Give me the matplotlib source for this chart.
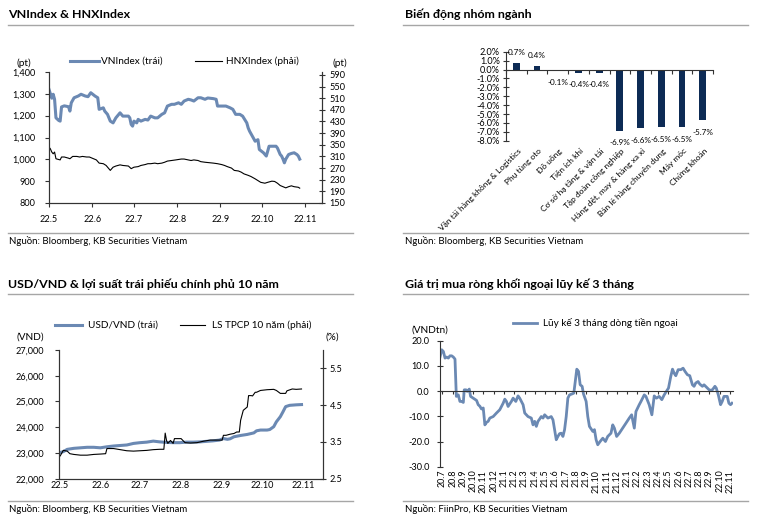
import matplotlib
matplotlib.use('Agg')
import matplotlib.pyplot as plt
from matplotlib.lines import Line2D
from matplotlib.ticker import FuncFormatter
import numpy as np

plt.rcParams['font.family'] = ['Lato', 'Noto Sans', 'DejaVu Sans']
plt.rcParams['font.size'] = 6.6

# ---- data: VNIndex & HNXIndex (days since 1 May 2022)
vn_days = [0, 2, 3, 4, 5, 7, 8, 9, 11, 14, 15, 16, 18, 21, 23, 26, 28, 30, 33, 35,
           36, 39, 40, 42, 44, 46, 48, 51, 53, 57, 58, 59, 60, 61, 63, 64, 66, 69, 71, 73,
           76, 78, 81, 83, 85, 88, 90, 93, 95, 97, 100, 102, 104, 107, 109, 112, 114, 118, 120, 121,
           124, 127, 130, 132, 134, 137, 139, 142, 143, 144, 146, 148, 150, 151, 154, 156, 157, 158, 161, 163,
           164, 166, 167, 168, 169, 170, 172, 174, 176, 178, 179, 180]
vn_vals = [1320, 1280, 1298, 1275, 1190, 1178, 1175, 1240, 1245, 1241, 1221, 1259, 1282, 1290, 1298, 1290, 1287, 1305, 1290, 1282,
           1229, 1236, 1221, 1206, 1175, 1167, 1190, 1213, 1198, 1198, 1190, 1160, 1152, 1175, 1167, 1183, 1175, 1183, 1180, 1198,
           1190, 1190, 1206, 1213, 1244, 1252, 1252, 1259, 1252, 1267, 1275, 1272, 1267, 1282, 1282, 1275, 1281, 1278, 1275, 1244,
           1244, 1244, 1236, 1229, 1206, 1206, 1198, 1167, 1144, 1129, 1106, 1083, 1090, 1045, 1030, 1015, 1037, 1060, 1060, 1060,
           1052, 1022, 1015, 1001, 984, 1001, 1022, 1027, 1030, 1022, 1015, 1001]
hnx_days = [0, 1, 2, 3, 4, 5, 8, 9, 11, 14, 15, 17, 20, 22, 24, 27, 29, 32, 34, 36,
            39, 41, 44, 46, 48, 51, 53, 57, 59, 61, 64, 66, 69, 71, 73, 76, 78, 81, 83, 85,
            88, 91, 95, 97, 100, 102, 104, 107, 109, 112, 114, 118, 121, 124, 126, 128, 131, 133, 136, 138,
            140, 143, 145, 148, 150, 152, 155, 157, 160, 162, 164, 166, 169, 170, 172, 174, 176, 179, 180]
hnx_vals = [342, 336, 325, 319, 325, 302, 298, 308, 308, 304, 302, 310, 310, 308, 310, 308, 308, 302, 298, 287,
            285, 279, 262, 273, 277, 281, 279, 277, 268, 273, 275, 279, 282, 285, 285, 287, 285, 287, 290, 294,
            296, 298, 301, 301, 298, 296, 298, 296, 292, 290, 289, 287, 285, 282, 279, 275, 270, 262, 260, 256,
            250, 245, 241, 233, 227, 221, 218, 221, 225, 224, 218, 210, 204, 202, 206, 209, 206, 204, 201]
month_ticks = [0, 31, 61, 92, 123, 153, 184]
month_labels = ['22.5', '22.6', '22.7', '22.8', '22.9', '22.10', '22.11']

# ---- data: sector performance
sectors = ['Vận tải hàng không & Logistics', 'Phụ tùng oto', 'Đồ uống', 'Tiện ích khí',
           'Cơ sở hạ tầng & vận tải', 'Tập đoàn công nghiệp', 'Hàng dệt, may & hàng xa xỉ',
           'Bán lẻ hàng chuyên dụng', 'Máy móc', 'Chứng khoán']
sector_chg = [0.7, 0.4, -0.1, -0.4, -0.4, -6.9, -6.6, -6.5, -6.5, -5.7]

# ---- data: USD/VND & 10y government bond yield (days since 1 May 2022)
usd_days = [0, 3, 6, 11, 16, 21, 26, 31, 36, 41, 46, 51, 56, 61, 66, 71, 76, 81, 86, 91,
            96, 101, 106, 111, 116, 121, 124, 127, 129, 132, 137, 142, 147, 149, 152, 157, 159, 162, 164, 167,
            169, 171, 174, 179, 183]
usd_vals = [23010, 23050, 23140, 23180, 23200, 23220, 23220, 23200, 23240, 23270, 23290, 23310, 23370, 23400, 23420,
            23460, 23430, 23410, 23400, 23400, 23420, 23420, 23430, 23450, 23470, 23500, 23560, 23530, 23550, 23630,
            23680, 23720, 23780, 23860, 23890, 23890, 23910, 24020, 24210, 24410, 24600, 24800, 24850, 24870, 24880]
bond_days = [0, 1, 3, 6, 8, 11, 16, 21, 26, 31, 35, 36, 41, 46, 51, 56, 61, 66, 71, 76,
             79, 80, 81, 82, 84, 86, 87, 90, 92, 95, 99, 104, 109, 114, 119, 123, 124, 126, 129, 132,
             134, 136, 137, 139, 142, 143, 145, 146, 148, 149, 152, 157, 162, 164, 167, 171, 172, 176, 179, 183]
bond_vals = [3.09, 3.14, 3.27, 3.25, 3.18, 3.16, 3.14, 3.14, 3.16, 3.17, 3.18, 3.32, 3.32, 3.29, 3.26, 3.25, 3.26, 3.27, 3.29, 3.30,
             3.30, 3.74, 3.54, 3.46, 3.54, 3.46, 3.59, 3.59, 3.59, 3.48, 3.47, 3.48, 3.52, 3.55, 3.55, 3.55, 3.68, 3.68, 3.71, 3.73,
             3.77, 3.77, 4.09, 4.36, 4.45, 4.76, 4.76, 4.75, 4.85, 4.85, 4.90, 4.92, 4.93, 4.90, 4.82, 4.82, 4.89, 4.94, 4.93, 4.94]

# ---- data: foreign net buy, 3-month cumulative (months since 2020.7)
flow_m = [-0.23, -0.06, 0.10, 0.26, 0.42, 0.58, 0.74, 0.91, 1.07, 1.23, 1.36, 1.55, 1.71, 1.88, 2.04, 2.13, 2.30, 2.42, 2.62, 2.75,
          3.01, 3.33, 3.49, 3.65, 3.81, 3.98, 4.14, 4.30, 4.46, 4.62, 4.95, 5.27, 5.59, 5.92, 6.08, 6.24, 6.40, 6.72, 6.89, 7.15,
          7.37, 7.53, 7.86, 8.02, 8.34, 8.66, 8.83, 8.99, 9.15, 9.31, 9.47, 9.63, 9.80, 9.96, 10.28, 10.60, 10.77, 11.09, 11.25, 11.41,
          11.57, 11.74, 11.90, 12.06, 12.22, 12.38, 12.64, 12.80, 12.96, 13.09, 13.26, 13.42, 13.61, 13.74, 14.00, 14.16, 14.32, 14.65, 14.81, 14.97,
          15.13, 15.36, 15.62, 15.88, 16.10, 16.42, 16.59, 16.75, 16.97, 17.23, 17.56, 17.88, 18.20, 18.43, 18.69, 18.85, 19.17, 19.34, 19.66, 19.82,
          20.14, 20.40, 20.63, 20.85, 21.11, 21.37, 21.60, 21.82, 22.02, 22.24, 22.41, 22.57, 22.73, 22.96, 23.22, 23.44, 23.63, 23.86, 24.09, 24.35,
          24.51, 24.67, 24.90, 25.06, 25.32, 25.48, 25.80, 26.03, 26.29, 26.54, 26.67, 26.87, 27.09, 27.25, 27.42, 27.74, 27.90, 28.06, 28.20]
flow_vals = [13.5, 16.4, 15.7, 13.1, 13.5, 13.1, 14.0, 14.0, 13.5, 12.7, -2.1, -1.5, -4.1, -4.1, -4.5, 0.5, 0.5, -0.1, 0.8, -2.1,
             -2.8, -3.7, -5.4, -6.0, -7.1, -6.7, -13.4, -12.4, -12.0, -10.7, -10.1, -8.7, -7.4, -4.8, -3.2, -4.1, -6.1, -4.1, -2.8, -4.1,
             -1.9, -2.8, -5.4, -8.7, -10.1, -10.7, -13.4, -12.0, -14.0, -12.0, -11.1, -10.1, -10.7, -9.4, -10.7, -10.1, -11.4, -19.3, -18.0, -16.9,
             -16.7, -18.0, -15.3, -10.1, -2.8, -1.5, -1.1, -0.8, 4.5, 8.7, 7.8, 2.5, 1.9, -1.1, -4.1, -10.1, -14.0, -16.0, -15.3, -19.3,
             -21.3, -20.0, -18.7, -20.0, -18.0, -16.7, -13.4, -14.7, -18.0, -16.7, -14.7, -12.7, -10.7, -9.4, -14.7, -8.1, -5.4, -4.1, -1.5, -2.1,
             -5.4, -9.4, -1.9, -2.8, -2.1, -3.4, -1.5, -0.1, 1.2, 5.8, 8.7, 7.1, 6.1, 8.5, 8.5, 9.1, 7.8, 6.5, 6.1, 2.5,
             1.9, 3.2, 3.8, 2.8, 1.9, 2.5, 1.2, 0.3, 0.5, 1.9, 1.2, -1.5, -5.4, -4.1, -2.1, -2.1, -4.8, -5.4, -4.8]
flow_labels = ['20.7', '20.8', '20.9', '20.10', '20.11', '20.12',
               '21.1', '21.2', '21.3', '21.4', '21.5', '21.6', '21.7', '21.8', '21.9', '21.10', '21.11', '21.12',
               '22.1', '22.2', '22.3', '22.4', '22.5', '22.6', '22.7', '22.8', '22.9', '22.10', '22.11']

BLUE = '#6b89b3'
NAVY = '#0d2b55'
GREY = '#a6a6a6'
W, H = 757, 517
TICK_FS = 6.6
LEG_FS = 7.2
SRC_FS = 6.9
TITLE_FS = 8.9

fig = plt.figure(figsize=(W / 100, H / 100), dpi=100)


def box(l, t, r, b):
    return [l / W, 1 - b / H, (r - l) / W, (b - t) / H]


def hline(x0, x1, y, color=GREY, lw=1.0):
    fig.add_artist(Line2D([x0 / W, x1 / W], [1 - y / H, 1 - y / H], color=color, lw=lw,
                          transform=fig.transFigure))


def ftext(x, y, s, **kw):
    fig.text(x / W, 1 - y / H, s, **kw)


def style_axis(ax):
    for s in ax.spines.values():
        s.set_linewidth(0.8)
        s.set_color('#333333')
    ax.tick_params(labelsize=TICK_FS, width=0.8, color='#333333')


# ================= panel 1 =================
ftext(8, 14, 'VNIndex & HNXIndex', fontsize=TITLE_FS, fontweight='bold', va='center')
hline(8, 353, 25)
hline(8, 353, 233)
ftext(9, 241, 'Nguồn: Bloomberg, KB Securities Vietnam', fontsize=SRC_FS, va='center')

ax1 = fig.add_axes(box(49, 72, 322, 203))
ax1.plot(vn_days, vn_vals, color=BLUE, lw=2.2, solid_joinstyle='round')
ax1.set_xlim(0, 196)
ax1.set_ylim(800, 1400)
ax1.set_yticks(range(800, 1401, 100))
ax1.yaxis.set_major_formatter(FuncFormatter(lambda v, p: f'{v:,.0f}'))
ax1.set_xticks(month_ticks)
ax1.set_xticklabels(month_labels)
style_axis(ax1)
ax1.tick_params(axis='y', direction='out', length=3, pad=7)
ax1.tick_params(axis='x', direction='out', length=3, pad=6)
ax1.spines['top'].set_visible(False)
ax1b = ax1.twinx()
ax1b.plot(hnx_days, hnx_vals, color='black', lw=0.8)
ax1b.set_ylim(150, 600)
ax1b.set_yticks(range(150, 591, 40))
style_axis(ax1b)
ax1b.tick_params(axis='y', direction='inout', length=5, pad=3)
ax1b.spines['top'].set_visible(False)

hline(70, 99, 61, color=BLUE, lw=2.2)
ftext(101, 61, 'VNIndex (trái)', fontsize=LEG_FS, va='center')
hline(195, 222, 61, color='black', lw=0.8)
ftext(226, 61, 'HNXIndex (phải)', fontsize=LEG_FS, va='center')
ftext(24, 63, '(pt)', fontsize=LEG_FS, va='center', ha='center')
ftext(340, 63, '(pt)', fontsize=LEG_FS, va='center', ha='center')

# ================= panel 2 =================
ftext(405, 14, 'Biến động nhóm ngành', fontsize=TITLE_FS, fontweight='bold', va='center')
hline(403, 748, 25)
hline(403, 748, 233)
ftext(405, 241, 'Nguồn: Bloomberg, KB Securities Vietnam', fontsize=SRC_FS, va='center')

ax2 = fig.add_axes(box(506, 51.7, 713, 140.7))
xs = np.arange(len(sectors))
ax2.bar(xs, sector_chg, width=0.33, color=NAVY)
ax2.set_xlim(-0.5, len(sectors) - 0.5)
ax2.set_ylim(-8, 2)
ax2.set_yticks(range(-8, 3))
ax2.yaxis.set_major_formatter(FuncFormatter(lambda v, p: f'{v:.1f}%'))
ax2.spines['top'].set_visible(False)
ax2.spines['right'].set_visible(False)
ax2.spines['bottom'].set_position(('data', 0))
ax2.set_xticks(np.arange(-0.5, len(sectors)))
ax2.set_xticklabels([])
style_axis(ax2)
ax2.tick_params(axis='y', direction='inout', length=5, pad=2)
ax2.tick_params(axis='x', direction='out', length=3)
for i, v in enumerate(sector_chg):
    ax2.annotate(f'{v:.1f}%', (i, v), xytext=(0, 7.5 if v > 0 else -8.5),
                 textcoords='offset points', ha='center', va='center', fontsize=5.9)
for i, name in enumerate(sectors):
    ax2.text(i + 0.05, -8.75, name, rotation=45, rotation_mode='anchor', ha='right', va='top',
             fontsize=6.0, clip_on=False)

# ================= panel 3 =================
ftext(8, 284, 'USD/VND & lợi suất trái phiếu chính phủ 10 năm', fontsize=TITLE_FS, fontweight='bold', va='center')
hline(8, 353, 294)
hline(8, 353, 501)
ftext(9, 509, 'Nguồn: Bloomberg, KB Securities Vietnam', fontsize=SRC_FS, va='center')

ax3 = fig.add_axes(box(59.3, 350, 322.7, 478.7))
ax3.plot(usd_days, usd_vals, color=BLUE, lw=2.2, solid_joinstyle='round')
ax3.set_xlim(0, 199)
ax3.set_ylim(22000, 27000)
ax3.set_yticks(range(22000, 27001, 1000))
ax3.yaxis.set_major_formatter(FuncFormatter(lambda v, p: f'{v:,.0f}'))
ax3.set_xticks(month_ticks)
ax3.set_xticklabels(month_labels)
style_axis(ax3)
ax3.tick_params(axis='y', direction='out', length=3, pad=8)
ax3.tick_params(axis='x', direction='in', length=0, pad=2)
ax3.spines['top'].set_visible(False)
ax3b = ax3.twinx()
ax3b.plot(bond_days, bond_vals, color='black', lw=0.8)
ax3b.set_ylim(2.5, 6.0)
ax3b.set_yticks([2.5, 3.5, 4.5, 5.5])
style_axis(ax3b)
ax3b.tick_params(axis='y', direction='inout', length=5, pad=2.5)
ax3b.spines['top'].set_visible(False)

hline(55, 82, 325, color=BLUE, lw=2.2)
ftext(88, 325, 'USD/VND (trái)', fontsize=LEG_FS, va='center')
hline(180, 205, 325, color='black', lw=0.8)
ftext(212, 325, 'LS TPCP 10 năm (phải)', fontsize=LEG_FS, va='center')
ftext(30, 337, '(VND)', fontsize=LEG_FS, va='center', ha='center')
ftext(332, 337, '(%)', fontsize=LEG_FS, va='center', ha='center')

# ================= panel 4 =================
ftext(405, 284, 'Giá trị mua ròng khối ngoại lũy kế 3 tháng', fontsize=TITLE_FS, fontweight='bold', va='center')
hline(403, 748, 294)
hline(403, 748, 501)
ftext(405, 509, 'Nguồn: FiinPro, KB Securities Vietnam', fontsize=SRC_FS, va='center')

ax4 = fig.add_axes(box(440, 340.7, 733, 466.7))
ax4.plot(flow_m, flow_vals, color=BLUE, lw=2.0, solid_joinstyle='round')
ax4.set_xlim(-0.23, 28.3)
ax4.set_ylim(-30, 20)
ax4.set_yticks(range(-30, 21, 10))
ax4.yaxis.set_major_formatter(FuncFormatter(lambda v, p: f'{v:.1f}'))
ax4.spines['top'].set_visible(False)
ax4.spines['right'].set_visible(False)
ax4.spines['bottom'].set_position(('data', 0))
ax4.set_xticks(np.arange(len(flow_labels)))
ax4.set_xticklabels([])
style_axis(ax4)
ax4.tick_params(axis='y', direction='inout', length=5, pad=5)
ax4.tick_params(axis='x', direction='out', length=2.5)
for i, lab in enumerate(flow_labels):
    ax4.text(i, -31.2, lab, rotation=90, ha='center', va='top', fontsize=6.4, clip_on=False)

hline(513, 537, 323, color=BLUE, lw=2.0)
ftext(543, 323, 'Lũy kế 3 tháng dòng tiền ngoại', fontsize=LEG_FS, va='center')
ftext(430, 330, '(VNDtn)', fontsize=LEG_FS, va='center', ha='center')

fig.savefig('out.png', dpi=100)
